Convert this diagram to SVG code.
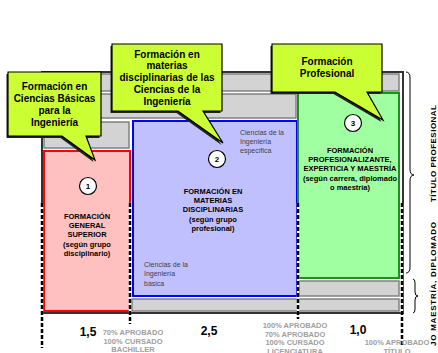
<svg xmlns="http://www.w3.org/2000/svg" width="438" height="353" viewBox="0 0 438 353">
<defs>
<style>
text{font-family:"Liberation Sans",Arial,sans-serif;}
.bar{fill:#d3d3d3;stroke:#808080;stroke-width:1.5;}
.b{font-weight:bold;fill:#000;text-anchor:middle;}
.cal{font-size:10px;}
.box{font-size:7.5px;}
.sm{font-size:7px;fill:#404040;}
.lbl{font-size:7.5px;font-weight:bold;fill:#a0a0a0;text-anchor:middle;}
.num{font-size:12px;font-weight:bold;fill:#000;text-anchor:middle;}
.rot{font-size:8px;font-weight:bold;fill:#000;}
.bub{fill:#ccff33;stroke:#000;stroke-width:1.2;}
.shd{fill:#222;}
.dw{stroke:#fff;stroke-width:2.5;fill:none;}
.dk{stroke:#000;stroke-width:2.5;stroke-dasharray:4 2;fill:none;}
.br{fill:none;stroke:#000;stroke-width:1;}
.circ{fill:#fff;stroke:#000;stroke-width:1.2;}
</style>
</defs>

<g id="frame">
<rect x="42" y="72" width="361" height="241" fill="#fff" stroke="#333" stroke-width="2"/>
<rect class="bar" x="44" y="74" width="355" height="17"/>
<rect class="bar" x="44" y="94" width="252" height="24"/>
<rect class="bar" x="44" y="122" width="85" height="26"/>
<rect class="bar" x="299" y="281" width="100" height="15"/>
<rect class="bar" x="132" y="299" width="267" height="12"/>
</g>

<g id="block1">
<rect x="44" y="151" width="86" height="160" fill="#ffc0c0" stroke="#ff0000" stroke-width="2"/>
<circle class="circ" cx="88" cy="186" r="8.5"/>
<text class="b" x="88" y="189" font-size="8">1</text>
<text class="b box" x="87" y="218.5">FORMACIÓN</text>
<text class="b box" x="87" y="227.5">GENERAL</text>
<text class="b box" x="87" y="236.5">SUPERIOR</text>
<text class="b box" x="87" y="246.5">(según grupo</text>
<text class="b box" x="87" y="255.5">disciplinario)</text>
</g>

<g id="block2">
<rect x="133" y="121" width="164" height="175" fill="#c0c0ff" stroke="#0000ff" stroke-width="2"/>
<circle class="circ" cx="217" cy="159" r="8.5"/>
<text class="b" x="217" y="162" font-size="8">2</text>
<text class="b box" x="213" y="193.5">FORMACIÓN EN</text>
<text class="b box" x="213" y="202.5">MATERIAS</text>
<text class="b box" x="213" y="211.5">DISCIPLINARIAS</text>
<text class="b box" x="213" y="221.5">(según grupo</text>
<text class="b box" x="213" y="230.5">profesional)</text>
<text class="sm" x="240" y="135">Ciencias de la</text>
<text class="sm" x="240" y="144">Ingeniería</text>
<text class="sm" x="240" y="153">específica</text>
<text class="sm" x="144" y="266.5">Ciencias de la</text>
<text class="sm" x="144" y="276">Ingeniería</text>
<text class="sm" x="144" y="285.5">básica</text>
</g>

<g id="block3">
<rect x="298" y="93" width="101" height="185" fill="#a0ffa0" stroke="#1f8f1f" stroke-width="2"/>
<circle class="circ" cx="353" cy="123" r="8.5"/>
<text class="b" x="353" y="126" font-size="8">3</text>
<text class="b box" x="350" y="153">FORMACIÓN</text>
<text class="b box" x="350" y="161.5">PROFESIONALIZANTE,</text>
<text class="b box" x="350" y="170.5">EXPERTICIA Y MAESTRÍA</text>
<text class="b box" x="350" y="180.5">(según carrera, diplomado</text>
<text class="b box" x="350" y="189.5">o maestría)</text>
</g>

<g id="connectors">
<path class="dw" d="M42 203 V313 M130 203 V313 M298 203 V313 M402 203 V313"/>
<path class="dk" d="M42 203 V348 M130 203 V324 M298 203 V319 M402 203 V346"/>
<path class="br" d="M406 72 Q410 72 410 78 L410 169 Q410 175 414 175 Q410 175 410 181 L410 267 Q410 273 406 273"/>
<path class="br" d="M413 279 Q415 279 415 283 L415 292 Q415 296 418 296 Q415 296 415 300 L415 309 Q415 313 413 313"/>
</g>

<g id="callout1">
<path class="shd" transform="translate(-1.5,2)" d="M8 72 H101 V136 H86 L95 160 L62 136 H8 Z"/>
<path class="bub" d="M8 72 H101 V136 H86 L95 160 L62 136 H8 Z"/>
<text class="b cal" x="54.5" y="90.2">Formación en</text>
<text class="b cal" x="54.5" y="102.2">Ciencias Básicas</text>
<text class="b cal" x="54.5" y="114">para la</text>
<text class="b cal" x="54.5" y="125.8">Ingeniería</text>
</g>

<g id="callout2">
<path class="shd" transform="translate(-1.5,2)" d="M112 44 H222 V111 H203 L223 143 L178 111 H112 Z"/>
<path class="bub" d="M112 44 H222 V111 H203 L223 143 L178 111 H112 Z"/>
<text class="b cal" x="167" y="57.5">Formación en</text>
<text class="b cal" x="167" y="69.4">materias</text>
<text class="b cal" x="167" y="81.3">disciplinarias de las</text>
<text class="b cal" x="167" y="93.2">Ciencias de la</text>
<text class="b cal" x="167" y="105.1">Ingeniería</text>
</g>

<g id="callout3">
<path class="shd" transform="translate(-1.5,2)" d="M272 44 H382 V92 H367 L383 120 L335 92 H272 Z"/>
<path class="bub" d="M272 44 H382 V92 H367 L383 120 L335 92 H272 Z"/>
<text class="b cal" x="327" y="65.2">Formación</text>
<text class="b cal" x="327" y="76.8">Profesional</text>
</g>

<g id="side-labels">
<text class="rot" text-anchor="middle" transform="translate(435.5,153.5) rotate(-90)" textLength="97" lengthAdjust="spacing">TÍTULO PROFESIONAL</text>
<text class="rot" text-anchor="end" transform="translate(435.5,222) rotate(-90)" textLength="124" lengthAdjust="spacing">JO MAESTRÍA, DIPLOMADO</text>
</g>

<g id="axis-labels">
<text class="num" x="88" y="336">1,5</text>
<text class="num" x="209" y="335">2,5</text>
<text class="num" x="358" y="334">1,0</text>
<text class="lbl" x="133" y="334.5">70% APROBADO</text>
<text class="lbl" x="133" y="343.7">100% CURSADO</text>
<text class="lbl" x="133" y="352">BACHILLER</text>
<text class="lbl" x="295" y="327.7">100% APROBADO</text>
<text class="lbl" x="295" y="336.7">70% APROBADO</text>
<text class="lbl" x="295" y="345.4">100% CURSADO</text>
<text class="lbl" x="295" y="353.7">LICENCIATURA</text>
<text class="lbl" x="397" y="345.4">100% APROBADO</text>
<text class="lbl" x="397" y="353.7">TÍTULO</text>
</g>
</svg>
